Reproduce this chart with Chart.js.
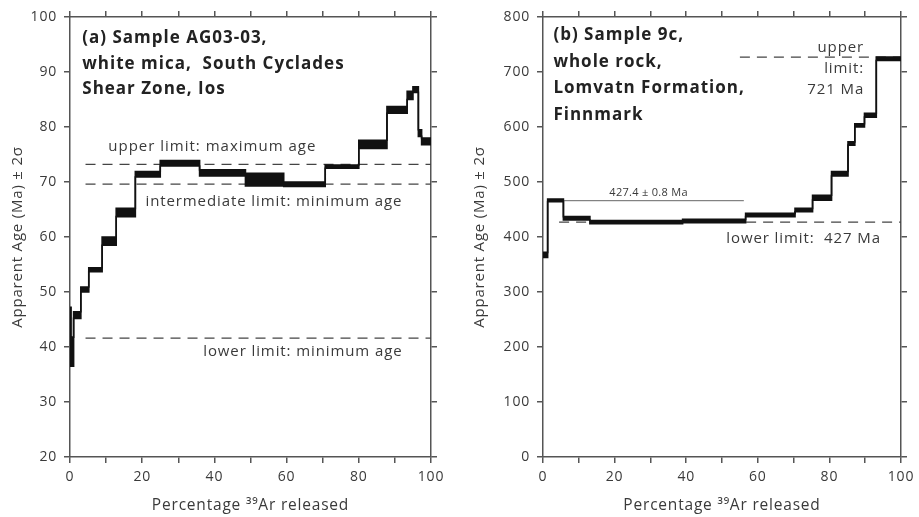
<!DOCTYPE html>
<html lang="en">
<head>
<meta charset="UTF-8" />
<title>Ar-Ar age spectra</title>
<script src="https://cdn.jsdelivr.net/npm/chart.js"></script>
<style>
  body { margin: 0; background: #fff; }
  canvas.panel { position: absolute; top: 0; }
</style>
</head>
<body>
<canvas id="chartA" class="panel" width="460" height="517" style="left:0"></canvas>
<canvas id="chartB" class="panel" width="459" height="517" style="left:460px"></canvas>

<script>
// (a) AG03-03 white mica: step start (% 39Ar released) and age window (Ma, +/- 2 sigma)
const stepStartA = [0, 0.3, 1.0, 3.0, 5.2, 8.9, 12.8, 18.1, 25.0, 35.9, 48.6, 59.2, 70.7, 80.0, 87.8, 93.4, 95.0, 96.5, 97.4];
const ageLowA  = [36.5, 36.5, 45.2, 50.0, 53.7, 58.5, 63.7, 70.9, 72.9, 71.1, 69.3, 69.2, 72.5, 76.1, 82.5, 85.0, 86.3, 78.3, 76.8];
const ageHighA = [47.2, 41.8, 46.4, 50.9, 54.4, 60.0, 65.2, 71.9, 73.9, 72.2, 71.6, 70.0, 73.1, 77.6, 83.7, 86.5, 87.3, 79.5, 78.0];
const limitsA = [73.2, 69.6, 41.6];          // upper, intermediate, lower
const limitFromA = 4.3;

// (b) 9c whole rock
const stepStartB = [0, 1.3, 5.7, 13.1, 39.0, 56.6, 70.4, 75.3, 80.6, 85.2, 87.1, 89.8, 93.1];
const ageLowB  = [363, 464, 431, 424, 426, 437, 446, 467, 511, 567, 600, 618, 721];
const ageHighB = [372, 469, 437, 430, 432, 443, 452, 476, 519, 573, 606, 625, 727];
const upperLimitB = 727, lowerLimitB = 427;
const plateauB = { from: 5.7, to: 56.1, age: 466 };

const xTicks = [0, 20, 40, 60, 80, 100];
const yTicksA = [20, 30, 40, 50, 60, 70, 80, 90, 100];
const yTicksB = [0, 100, 200, 300, 400, 500, 600, 700, 800];

const AXIS = '#555';
const TXT = '#3a3a3a';
const FONT = "'Open Sans', sans-serif";

function stepPoints(starts, vals) {
  const pts = starts.map((s, i) => ({ x: s, y: vals[i] }));
  pts.push({ x: 100, y: vals[vals.length - 1] });
  return pts;
}

function spectrum(starts, lo, hi) {
  const base = { stepped: true, pointRadius: 0, borderColor: '#111', borderWidth: 1.6, backgroundColor: '#111' };
  return [
    Object.assign({ data: stepPoints(starts, hi), fill: false }, base),
    Object.assign({ data: stepPoints(starts, lo), fill: '-1' }, base)
  ];
}

function hline(from, to, y, dash, color, width) {
  return { data: [{ x: from, y: y }, { x: to, y: y }], borderColor: color, borderWidth: width,
           borderDash: dash, pointRadius: 0, fill: false };
}

// slightly wider lettering, closer to the original typeface
const spacingPlugin = {
  id: 'spacing',
  beforeDraw(chart) { chart.ctx.letterSpacing = '0.8px'; }
};

const notesPlugin = {
  id: 'notes',
  afterDatasetsDraw(chart, args, opts) {
    const { ctx, scales: { x, y } } = chart;
    ctx.save();
    (opts.items || []).forEach(n => {
      ctx.font = n.font;
      ctx.letterSpacing = n.spacing || '0.9px';
      ctx.fillStyle = n.color || TXT;
      ctx.textAlign = n.align || 'left';
      ctx.textBaseline = 'middle';
      ctx.fillText(n.text, x.getPixelForValue(n.x), y.getPixelForValue(n.y));
    });
    ctx.restore();
  }
};

function makeScales(yMin, yMax, yStep, yTicks, box) {
  const grid = { drawOnChartArea: false, color: AXIS, lineWidth: 1.5, tickLength: 6 };
  const border = { color: AXIS, width: 1.5 };
  const tickFont = { family: FONT, size: 14 };
  return {
    x: {
      type: 'linear', position: 'bottom', min: 0, max: 100,
      grid, border,
      ticks: { stepSize: 10, autoSkip: false, maxRotation: 0, color: TXT, font: tickFont, padding: 6,
               callback: v => xTicks.includes(v) ? v : '' },
      title: { display: true, text: 'Percentage \u00B3\u2079Ar released', color: TXT,
               font: { family: FONT, size: 15.5 }, padding: { top: 0, bottom: 2 } },
      afterFit: s => { s.height = box.bottom; }
    },
    x2: {
      type: 'linear', position: 'top', min: 0, max: 100, grid, border,
      ticks: { stepSize: 10, autoSkip: false, callback: () => '' },
      afterFit: s => { s.height = box.top; }
    },
    y: {
      type: 'linear', position: 'left', min: yMin, max: yMax, grid, border,
      ticks: { stepSize: yStep, color: TXT, font: tickFont, padding: 7,
               callback: v => yTicks.includes(v) ? v : '' },
      title: { display: true, text: 'Apparent Age (Ma) \u00B1 2\u03C3', color: TXT,
               font: { family: FONT, size: 15 }, padding: { top: box.titlePad, bottom: 0 } },
      afterFit: s => { s.width = box.left; }
    },
    y2: {
      type: 'linear', position: 'right', min: yMin, max: yMax, grid, border,
      ticks: { stepSize: yStep, callback: () => '' },
      afterFit: s => { s.width = box.right; }
    }
  };
}

const baseOptions = {
  responsive: false,
  animation: false,
  layout: { padding: 0 },
  plugins: { legend: { display: false }, tooltip: { enabled: false } }
};

const bold = "bold 17px " + FONT;
const norm = "15px " + FONT;

new Chart(document.getElementById('chartA'), {
  type: 'line',
  data: {
    datasets: [
      ...spectrum(stepStartA, ageLowA, ageHighA),
      ...limitsA.map(v => hline(limitFromA, 100, v, [10, 7], '#444', 1.3))
    ]
  },
  options: Object.assign({}, baseOptions, {
    scales: makeScales(20, 100, 10, yTicksA, { left: 70, right: 29, top: 17, bottom: 60, titlePad: 9 }),
    plugins: Object.assign({}, baseOptions.plugins, {
      notes: { items: [
        { text: '(a) Sample AG03-03,', x: 3.4, y: 96.2, font: bold, color: '#222', spacing: '1px' },
        { text: 'white mica,  South Cyclades', x: 3.4, y: 91.5, font: bold, color: '#222', spacing: '1px' },
        { text: 'Shear Zone, Ios', x: 3.4, y: 86.9, font: bold, color: '#222', spacing: '1px' },
        { text: 'upper limit: maximum age', x: 10.6, y: 76.4, font: norm, spacing: '1px' },
        { text: 'intermediate limit: minimum age', x: 20.9, y: 66.4, font: norm },
        { text: 'lower limit: minimum age', x: 36.9, y: 39.1, font: norm }
      ] }
    })
  }),
  plugins: [spacingPlugin, notesPlugin]
});

new Chart(document.getElementById('chartB'), {
  type: 'line',
  data: {
    datasets: [
      ...spectrum(stepStartB, ageLowB, ageHighB),
      hline(plateauB.from, plateauB.to, plateauB.age, [], '#666', 1),
      hline(55, 100, upperLimitB, [10, 7], '#444', 1.3),
      hline(4.5, 100, lowerLimitB, [10, 7], '#444', 1.3)
    ]
  },
  options: Object.assign({}, baseOptions, {
    scales: makeScales(0, 800, 100, yTicksB, { left: 83, right: 16, top: 17, bottom: 60, titlePad: 11 }),
    plugins: Object.assign({}, baseOptions.plugins, {
      notes: { items: [
        { text: '(b) Sample 9c,', x: 2.9, y: 766.8, font: bold, color: '#222', spacing: '1px' },
        { text: 'whole rock,', x: 2.9, y: 718.3, font: bold, color: '#222', spacing: '1px' },
        { text: 'Lomvatn Formation,', x: 2.9, y: 670, font: bold, color: '#222', spacing: '1px' },
        { text: 'Finnmark', x: 2.9, y: 621.5, font: bold, color: '#222', spacing: '1px' },
        { text: 'upper', x: 89.7, y: 745, font: norm, align: 'right' },
        { text: 'limit:', x: 89.7, y: 706, font: norm, align: 'right' },
        { text: '721 Ma', x: 89.7, y: 667, font: norm, align: 'right' },
        { text: 'lower limit:  427 Ma', x: 72.8, y: 396, font: norm, align: 'center' },
        { text: '427.4 \u00B1 0.8 Ma', x: 29.5, y: 480, font: "11px " + FONT, align: 'center', spacing: '0.3px' }
      ] }
    })
  }),
  plugins: [spacingPlugin, notesPlugin]
});
</script>
</body>
</html>
